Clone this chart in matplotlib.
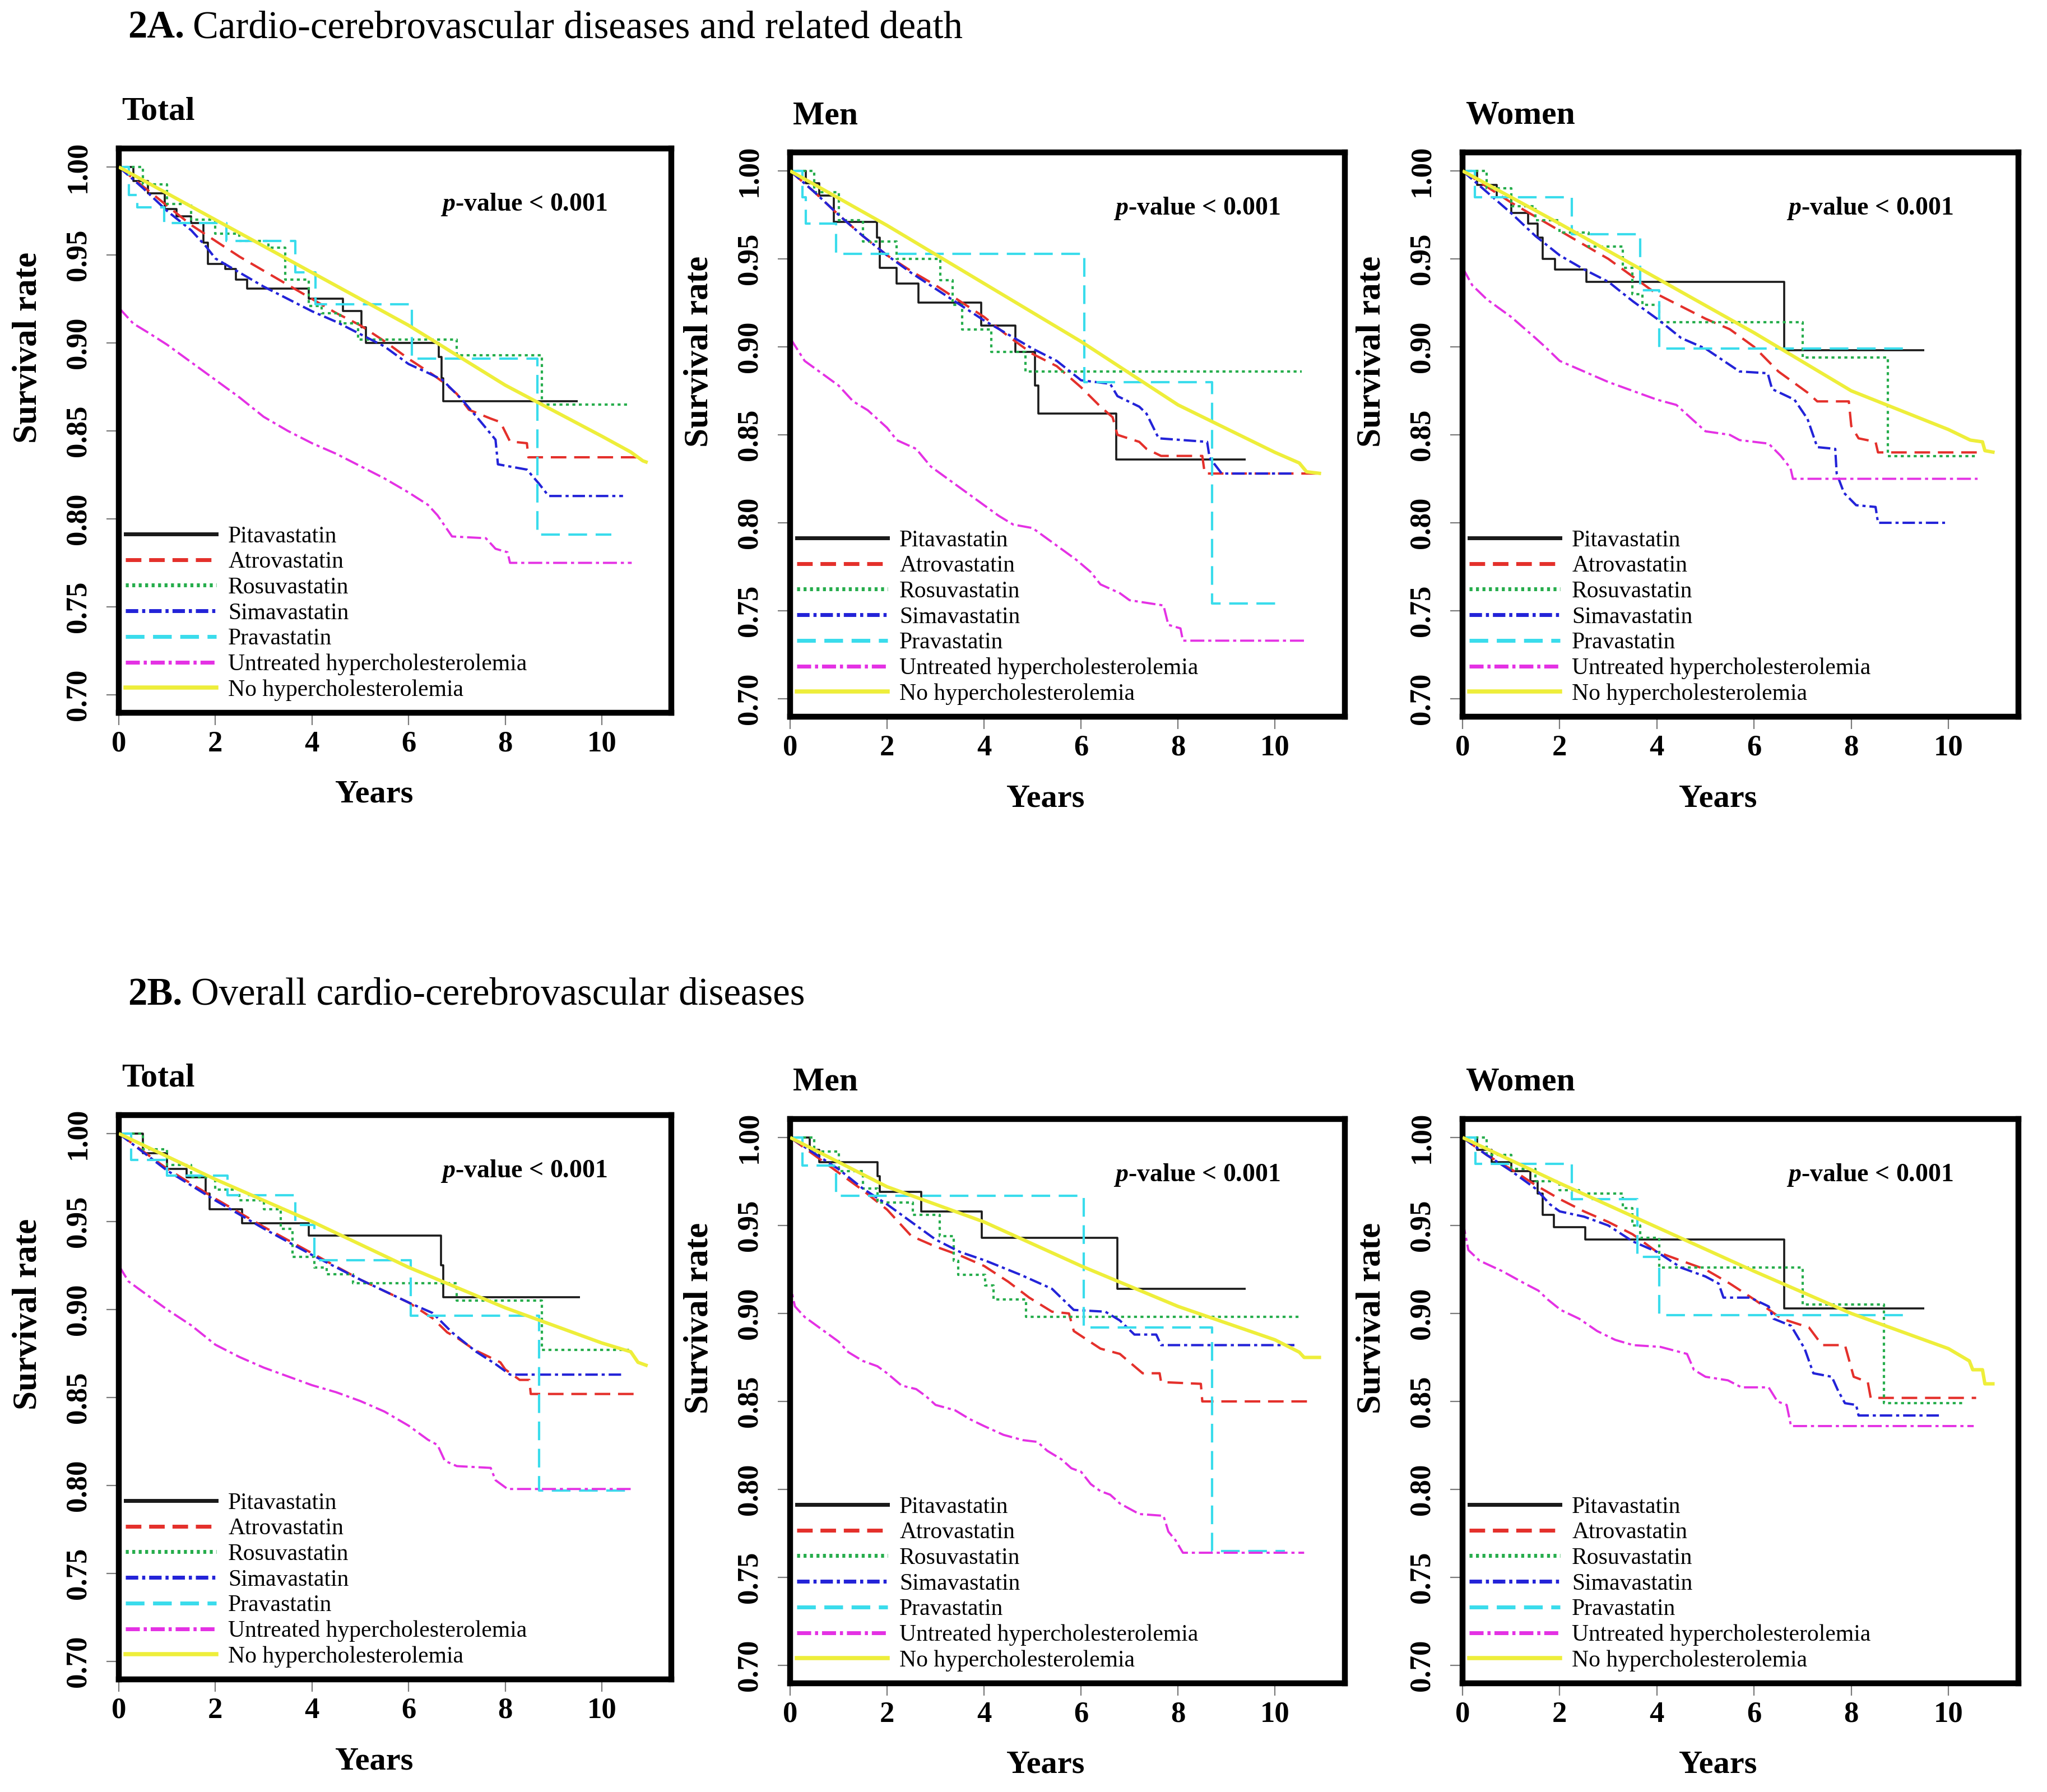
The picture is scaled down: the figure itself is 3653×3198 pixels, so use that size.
import matplotlib
matplotlib.use('Agg')
import matplotlib.pyplot as plt
from matplotlib.lines import Line2D
from matplotlib.text import Annotation

plt.rcParams['font.family'] = ['Liberation Serif', 'DejaVu Serif']
plt.rcParams['mathtext.fontset'] = 'custom'
plt.rcParams['mathtext.rm'] = 'Liberation Serif'
plt.rcParams['mathtext.bf'] = 'Liberation Serif:bold'
plt.rcParams['mathtext.it'] = 'Liberation Serif:italic:bold'
plt.rcParams['lines.scale_dashes'] = False

# ---------------- data ----------------
SERIES = ['Pitavastatin', 'Atrovastatin', 'Rosuvastatin', 'Simavastatin',
          'Pravastatin', 'Untreated hypercholesterolemia', 'No hypercholesterolemia']
SECTION_LABELS = ['2A.', '2B.']
SECTION_TITLES = ['Cardio-cerebrovascular diseases and related death',
                  'Overall cardio-cerebrovascular diseases']
PANEL_TITLES = ['Total', 'Men', 'Women']
X_TICKS = [0, 2, 4, 6, 8, 10]
Y_TICKS = [0.70, 0.75, 0.80, 0.85, 0.90, 0.95, 1.00]
P_TEXT = '$p$-value < 0.001'

# ---- 2A Total ----
A_TOT_PITA_T = [0, 0.3, 0.6, 0.95, 1.2, 1.5, 1.75, 1.85, 2.2, 2.43, 2.66, 3.93, 4.64, 5.02, 5.12, 6.62, 6.68, 6.72, 9.5]
A_TOT_PITA_S = [1.0, 0.992, 0.985, 0.976, 0.972, 0.968, 0.957, 0.945, 0.942, 0.936, 0.931, 0.925, 0.918, 0.909, 0.900, 0.892, 0.880, 0.867, 0.867]
A_TOT_ATOR_T = [0, 0.5, 1.0, 1.5, 2.0, 2.5, 3.0, 3.5, 4.0, 4.5, 5.0, 5.5, 6.0, 6.5, 6.75, 7.0, 7.25, 7.7, 7.9, 8.1, 8.45, 8.48, 10.8]
A_TOT_ATOR_S = [1.0, 0.989, 0.978, 0.967, 0.958, 0.949, 0.941, 0.933, 0.925, 0.917, 0.910, 0.901, 0.891, 0.882, 0.877, 0.871, 0.862, 0.857, 0.855, 0.844, 0.843, 0.835, 0.835]
A_TOT_ROSU_T = [0, 0.5, 1.0, 1.5, 2.0, 2.5, 3.1, 3.45, 3.93, 4.2, 4.58, 4.95, 7.0, 8.76, 10.58]
A_TOT_ROSU_S = [1.0, 0.990, 0.979, 0.970, 0.962, 0.958, 0.954, 0.936, 0.921, 0.917, 0.911, 0.902, 0.893, 0.865, 0.865]
A_TOT_SIMV_T = [0, 0.5, 1.0, 1.5, 1.8, 2.0, 2.5, 3.0, 3.5, 4.0, 4.5, 5.0, 5.5, 6.0, 6.4, 6.7, 7.1, 7.5, 7.8, 7.85, 8.45, 8.7, 8.9, 10.44]
A_TOT_SIMV_S = [1.0, 0.988, 0.975, 0.964, 0.955, 0.948, 0.940, 0.932, 0.925, 0.918, 0.912, 0.905, 0.898, 0.888, 0.883, 0.879, 0.868, 0.855, 0.845, 0.831, 0.828, 0.820, 0.813, 0.813]
A_TOT_PRAV_T = [0, 0.21, 0.38, 0.94, 2.23, 3.65, 4.07, 6.07, 8.67, 10.2]
A_TOT_PRAV_S = [1.0, 0.984, 0.977, 0.968, 0.958, 0.940, 0.922, 0.891, 0.791, 0.791]
A_TOT_UNTR_T = [0, 0.3, 0.6, 1.0, 1.5, 2.0, 2.5, 3.0, 3.5, 4.0, 4.5, 5.0, 5.5, 6.0, 6.4, 6.6, 6.9, 7.6, 7.8, 8.05, 8.1, 10.62]
A_TOT_UNTR_S = [0.920, 0.911, 0.906, 0.899, 0.889, 0.879, 0.869, 0.858, 0.850, 0.843, 0.837, 0.830, 0.823, 0.815, 0.808, 0.802, 0.790, 0.789, 0.783, 0.781, 0.775, 0.775]
A_TOT_NOHC_T = [0, 2, 4, 6, 8, 10, 10.6, 10.85, 10.95]
A_TOT_NOHC_S = [1.0, 0.970, 0.940, 0.910, 0.876, 0.847, 0.838, 0.833, 0.832]

# ---- 2A Men ----
A_MEN_PITA_T = [0, 0.32, 0.6, 0.9, 1.79, 1.85, 2.2, 2.65, 3.94, 4.65, 5.05, 5.12, 6.72, 9.4]
A_MEN_PITA_S = [1.0, 0.993, 0.986, 0.971, 0.962, 0.945, 0.936, 0.925, 0.912, 0.897, 0.878, 0.862, 0.836, 0.836]
A_MEN_ATOR_T = [0, 0.5, 1.0, 1.5, 2.0, 2.5, 3.0, 3.5, 4.0, 4.5, 5.0, 5.5, 6.0, 6.4, 6.65, 6.75, 7.2, 7.35, 7.65, 8.5, 8.55, 10.9]
A_MEN_ATOR_S = [1.0, 0.988, 0.975, 0.963, 0.952, 0.943, 0.935, 0.926, 0.917, 0.906, 0.896, 0.889, 0.877, 0.866, 0.860, 0.850, 0.846, 0.842, 0.838, 0.838, 0.828, 0.828]
A_MEN_ROSU_T = [0, 0.5, 1.0, 1.5, 2.2, 3.1, 3.35, 3.55, 4.15, 4.85, 10.55]
A_MEN_ROSU_S = [1.0, 0.988, 0.972, 0.960, 0.950, 0.938, 0.924, 0.910, 0.897, 0.886, 0.886]
A_MEN_SIMV_T = [0, 0.5, 1.0, 1.5, 2.0, 2.5, 3.0, 3.5, 4.0, 4.5, 5.0, 5.5, 6.0, 6.6, 6.75, 7.2, 7.35, 7.6, 8.6, 8.65, 8.9, 10.35]
A_MEN_SIMV_S = [1.0, 0.988, 0.975, 0.963, 0.952, 0.942, 0.933, 0.924, 0.915, 0.907, 0.899, 0.892, 0.881, 0.879, 0.872, 0.866, 0.862, 0.848, 0.846, 0.837, 0.828, 0.828]
A_MEN_PRAV_T = [0, 0.25, 0.32, 0.95, 6.07, 8.7, 10.15]
A_MEN_PRAV_S = [1.0, 0.985, 0.970, 0.953, 0.880, 0.754, 0.754]
A_MEN_UNTR_T = [0, 0.3, 0.6, 1.0, 1.3, 1.6, 2.0, 2.2, 2.6, 2.9, 3.2, 3.6, 4.0, 4.3, 4.6, 5.0, 5.3, 5.6, 5.9, 6.2, 6.4, 6.8, 7.0, 7.7, 7.8, 8.05, 8.1, 10.62]
A_MEN_UNTR_S = [0.905, 0.892, 0.886, 0.878, 0.869, 0.864, 0.854, 0.847, 0.842, 0.832, 0.826, 0.818, 0.810, 0.804, 0.799, 0.797, 0.791, 0.785, 0.779, 0.772, 0.765, 0.760, 0.756, 0.753, 0.742, 0.740, 0.733, 0.733]
A_MEN_NOHC_T = [0, 2, 4, 6, 8, 10, 10.5, 10.65, 10.95]
A_MEN_NOHC_S = [1.0, 0.969, 0.936, 0.903, 0.867, 0.840, 0.834, 0.829, 0.828]

# ---- 2A Women ----
A_WOM_PITA_T = [0, 0.3, 0.7, 1.0, 1.35, 1.55, 1.65, 1.9, 2.55, 6.62, 9.5]
A_WOM_PITA_S = [1.0, 0.992, 0.985, 0.976, 0.970, 0.962, 0.950, 0.944, 0.937, 0.898, 0.898]
A_WOM_ATOR_T = [0, 1, 2, 3, 4, 5, 5.5, 6, 6.5, 6.8, 7.1, 7.3, 7.95, 8.0, 8.15, 8.5, 8.55, 10.6]
A_WOM_ATOR_S = [1.0, 0.982, 0.966, 0.950, 0.930, 0.916, 0.910, 0.900, 0.886, 0.880, 0.874, 0.869, 0.869, 0.855, 0.848, 0.846, 0.840, 0.840]
A_WOM_ROSU_T = [0, 0.5, 1.0, 1.5, 2.0, 2.6, 3.3, 3.5, 3.7, 4.05, 7.0, 8.75, 10.55]
A_WOM_ROSU_S = [1.0, 0.990, 0.980, 0.972, 0.965, 0.957, 0.945, 0.930, 0.924, 0.914, 0.894, 0.838, 0.838]
A_WOM_SIMV_T = [0, 0.5, 1.0, 1.5, 2.0, 2.5, 3.0, 3.5, 4.05, 4.5, 5.0, 5.7, 6.28, 6.37, 6.83, 7.1, 7.3, 7.67, 7.7, 7.85, 8.1, 8.5, 8.55, 9.93]
A_WOM_SIMV_S = [1.0, 0.988, 0.976, 0.963, 0.952, 0.944, 0.937, 0.926, 0.915, 0.905, 0.899, 0.886, 0.885, 0.876, 0.870, 0.859, 0.843, 0.842, 0.828, 0.817, 0.810, 0.809, 0.800, 0.800]
A_WOM_PRAV_T = [0, 0.25, 2.25, 3.65, 4.05, 9.1]
A_WOM_PRAV_S = [1.0, 0.985, 0.964, 0.932, 0.899, 0.899]
A_WOM_UNTR_T = [0, 0.2, 0.5, 1.0, 1.5, 1.7, 2.0, 2.5, 3.0, 3.5, 4.0, 4.4, 4.8, 5.0, 5.5, 5.7, 6.3, 6.55, 6.75, 6.8, 10.6]
A_WOM_UNTR_S = [0.945, 0.935, 0.927, 0.917, 0.905, 0.900, 0.892, 0.886, 0.880, 0.875, 0.870, 0.867, 0.857, 0.852, 0.850, 0.847, 0.845, 0.838, 0.831, 0.825, 0.825]
A_WOM_NOHC_T = [0, 2, 4, 6, 8, 10, 10.45, 10.7, 10.75, 10.95]
A_WOM_NOHC_S = [1.0, 0.970, 0.939, 0.908, 0.875, 0.853, 0.847, 0.846, 0.841, 0.840]

# ---- 2B Total ----
B_TOT_PITA_T = [0, 0.5, 1.0, 1.4, 1.8, 1.88, 2.55, 3.93, 6.67, 6.72, 9.55]
B_TOT_PITA_S = [1.0, 0.989, 0.980, 0.975, 0.966, 0.957, 0.949, 0.942, 0.925, 0.907, 0.907]
B_TOT_ATOR_T = [0, 1, 2, 3, 4, 5, 6, 6.5, 6.8, 7.0, 7.37, 7.9, 8.0, 8.3, 8.5, 8.53, 10.67]
B_TOT_ATOR_S = [1.0, 0.980, 0.963, 0.947, 0.932, 0.917, 0.904, 0.895, 0.887, 0.884, 0.877, 0.870, 0.866, 0.860, 0.860, 0.852, 0.852]
B_TOT_ROSU_T = [0, 0.5, 1.0, 1.5, 2.0, 2.5, 3.0, 3.35, 3.6, 4.05, 4.3, 4.85, 7.0, 8.76, 10.6]
B_TOT_ROSU_S = [1.0, 0.991, 0.982, 0.975, 0.968, 0.962, 0.957, 0.946, 0.930, 0.924, 0.920, 0.915, 0.905, 0.877, 0.877]
B_TOT_SIMV_T = [0, 1, 2, 3, 4, 5, 6, 6.5, 6.9, 7.4, 7.8, 8.1, 10.48]
B_TOT_SIMV_S = [1.0, 0.979, 0.962, 0.946, 0.931, 0.917, 0.904, 0.898, 0.887, 0.876, 0.869, 0.863, 0.863]
B_TOT_PRAV_T = [0, 0.25, 1.0, 2.25, 3.65, 4.05, 6.05, 8.7, 10.5]
B_TOT_PRAV_S = [1.0, 0.985, 0.976, 0.965, 0.948, 0.928, 0.8965, 0.797, 0.797]
B_TOT_UNTR_T = [0, 0.2, 0.5, 1.0, 1.5, 2.0, 2.5, 3.0, 3.5, 4.0, 4.5, 5.0, 5.5, 6.0, 6.4, 6.6, 6.75, 7.0, 7.7, 7.8, 8.05, 10.62]
B_TOT_UNTR_S = [0.925, 0.916, 0.910, 0.900, 0.891, 0.880, 0.873, 0.867, 0.862, 0.857, 0.853, 0.848, 0.842, 0.834, 0.826, 0.823, 0.814, 0.811, 0.810, 0.803, 0.798, 0.798]
B_TOT_NOHC_T = [0, 2, 4, 6, 8, 10, 10.6, 10.75, 10.95]
B_TOT_NOHC_S = [1.0, 0.974, 0.950, 0.924, 0.901, 0.881, 0.876, 0.870, 0.868]

# ---- 2B Men ----
B_MEN_PITA_T = [0, 0.4, 0.6, 1.8, 1.85, 2.7, 3.95, 6.75, 9.4]
B_MEN_PITA_S = [1.0, 0.993, 0.986, 0.978, 0.969, 0.958, 0.943, 0.914, 0.914]
B_MEN_ATOR_T = [0, 0.5, 1.0, 1.5, 2.0, 2.5, 3.0, 3.5, 4.0, 4.5, 4.93, 5.4, 5.75, 5.85, 6.4, 6.8, 7.27, 7.62, 7.65, 8.47, 8.5, 10.8]
B_MEN_ATOR_S = [1.0, 0.990, 0.980, 0.970, 0.959, 0.944, 0.938, 0.933, 0.927, 0.918, 0.909, 0.901, 0.900, 0.890, 0.880, 0.877, 0.866, 0.866, 0.861, 0.860, 0.850, 0.850]
B_MEN_ROSU_T = [0, 0.5, 1.0, 1.5, 1.8, 2.53, 3.09, 3.37, 3.47, 4.02, 4.2, 4.86, 10.55]
B_MEN_ROSU_S = [1.0, 0.992, 0.981, 0.971, 0.963, 0.956, 0.944, 0.930, 0.922, 0.916, 0.908, 0.898, 0.898]
B_MEN_SIMV_T = [0, 0.5, 1.0, 1.5, 2.0, 2.5, 3.0, 3.5, 4.03, 4.75, 5.4, 5.85, 6.5, 6.8, 7.1, 7.55, 7.65, 10.4]
B_MEN_SIMV_S = [1.0, 0.991, 0.982, 0.971, 0.962, 0.952, 0.942, 0.935, 0.930, 0.922, 0.914, 0.902, 0.901, 0.896, 0.888, 0.888, 0.882, 0.882]
B_MEN_PRAV_T = [0, 0.25, 0.95, 6.05, 8.7, 10.2]
B_MEN_PRAV_S = [1.0, 0.984, 0.967, 0.892, 0.765, 0.765]
B_MEN_UNTR_T = [0, 0.05, 0.1, 0.3, 0.6, 1.0, 1.2, 1.5, 1.8, 2.0, 2.3, 2.6, 2.8, 3.0, 3.4, 3.7, 4.0, 4.4, 4.8, 5.1, 5.3, 5.6, 5.8, 6.0, 6.2, 6.4, 6.6, 6.8, 7.0, 7.2, 7.7, 7.8, 7.95, 8.1, 10.6]
B_MEN_UNTR_S = [0.921, 0.910, 0.904, 0.898, 0.892, 0.884, 0.878, 0.873, 0.870, 0.866, 0.859, 0.857, 0.853, 0.848, 0.845, 0.840, 0.836, 0.831, 0.828, 0.827, 0.822, 0.817, 0.812, 0.810, 0.803, 0.799, 0.797, 0.792, 0.789, 0.786, 0.785, 0.776, 0.771, 0.764, 0.764]
B_MEN_NOHC_T = [0, 2, 4, 6, 8, 10, 10.5, 10.6, 10.95]
B_MEN_NOHC_S = [1.0, 0.972, 0.952, 0.927, 0.904, 0.885, 0.878, 0.875, 0.875]

# ---- 2B Women ----
B_WOM_PITA_T = [0, 0.3, 0.6, 1.0, 1.4, 1.55, 1.65, 1.88, 2.53, 6.62, 9.5]
B_WOM_PITA_S = [1.0, 0.993, 0.986, 0.981, 0.975, 0.968, 0.956, 0.949, 0.942, 0.903, 0.903]
B_WOM_ATOR_T = [0, 0.5, 1, 1.5, 2, 2.5, 3, 3.5, 4, 4.5, 5, 5.5, 6, 6.57, 7.13, 7.4, 7.87, 7.97, 8.05, 8.34, 8.4, 10.57]
B_WOM_ATOR_S = [1.0, 0.990, 0.982, 0.973, 0.965, 0.958, 0.952, 0.945, 0.935, 0.930, 0.925, 0.917, 0.908, 0.897, 0.892, 0.882, 0.882, 0.872, 0.864, 0.861, 0.852, 0.852]
B_WOM_ROSU_T = [0, 0.5, 1.0, 1.5, 2.0, 2.4, 3.3, 3.5, 3.65, 4.05, 7.0, 8.67, 10.35]
B_WOM_ROSU_S = [1.0, 0.990, 0.982, 0.975, 0.970, 0.968, 0.960, 0.950, 0.943, 0.926, 0.905, 0.849, 0.849]
B_WOM_SIMV_T = [0, 0.5, 1, 1.5, 1.8, 2, 2.5, 3, 3.5, 4, 4.5, 5, 5.27, 5.37, 5.92, 6.3, 6.4, 6.76, 7.04, 7.22, 7.6, 7.73, 7.87, 8.1, 8.15, 9.82]
B_WOM_SIMV_S = [1.0, 0.990, 0.981, 0.971, 0.962, 0.958, 0.955, 0.950, 0.941, 0.935, 0.926, 0.921, 0.917, 0.909, 0.909, 0.904, 0.897, 0.893, 0.880, 0.866, 0.864, 0.856, 0.849, 0.848, 0.842, 0.842]
B_WOM_PRAV_T = [0, 0.27, 2.25, 3.6, 4.05, 9.1]
B_WOM_PRAV_S = [1.0, 0.985, 0.965, 0.932, 0.899, 0.899]
B_WOM_UNTR_T = [0, 0.12, 0.35, 0.82, 1.28, 1.56, 1.75, 2.02, 2.4, 2.77, 3.14, 3.51, 4.07, 4.62, 4.76, 5.0, 5.46, 5.74, 6.3, 6.48, 6.67, 6.76, 10.52]
B_WOM_UNTR_S = [0.953, 0.936, 0.930, 0.924, 0.917, 0.913, 0.908, 0.902, 0.897, 0.890, 0.885, 0.882, 0.881, 0.877, 0.868, 0.864, 0.862, 0.858, 0.858, 0.850, 0.848, 0.836, 0.836]
B_WOM_NOHC_T = [0, 2, 4, 6, 8, 10, 10.43, 10.5, 10.7, 10.75, 10.95]
B_WOM_NOHC_S = [1.0, 0.974, 0.949, 0.924, 0.900, 0.880, 0.873, 0.868, 0.868, 0.860, 0.860]

PANEL_DATA = [
    [(A_TOT_PITA_T, A_TOT_PITA_S), (A_TOT_ATOR_T, A_TOT_ATOR_S), (A_TOT_ROSU_T, A_TOT_ROSU_S),
     (A_TOT_SIMV_T, A_TOT_SIMV_S), (A_TOT_PRAV_T, A_TOT_PRAV_S), (A_TOT_UNTR_T, A_TOT_UNTR_S),
     (A_TOT_NOHC_T, A_TOT_NOHC_S)],
    [(A_MEN_PITA_T, A_MEN_PITA_S), (A_MEN_ATOR_T, A_MEN_ATOR_S), (A_MEN_ROSU_T, A_MEN_ROSU_S),
     (A_MEN_SIMV_T, A_MEN_SIMV_S), (A_MEN_PRAV_T, A_MEN_PRAV_S), (A_MEN_UNTR_T, A_MEN_UNTR_S),
     (A_MEN_NOHC_T, A_MEN_NOHC_S)],
    [(A_WOM_PITA_T, A_WOM_PITA_S), (A_WOM_ATOR_T, A_WOM_ATOR_S), (A_WOM_ROSU_T, A_WOM_ROSU_S),
     (A_WOM_SIMV_T, A_WOM_SIMV_S), (A_WOM_PRAV_T, A_WOM_PRAV_S), (A_WOM_UNTR_T, A_WOM_UNTR_S),
     (A_WOM_NOHC_T, A_WOM_NOHC_S)],
    [(B_TOT_PITA_T, B_TOT_PITA_S), (B_TOT_ATOR_T, B_TOT_ATOR_S), (B_TOT_ROSU_T, B_TOT_ROSU_S),
     (B_TOT_SIMV_T, B_TOT_SIMV_S), (B_TOT_PRAV_T, B_TOT_PRAV_S), (B_TOT_UNTR_T, B_TOT_UNTR_S),
     (B_TOT_NOHC_T, B_TOT_NOHC_S)],
    [(B_MEN_PITA_T, B_MEN_PITA_S), (B_MEN_ATOR_T, B_MEN_ATOR_S), (B_MEN_ROSU_T, B_MEN_ROSU_S),
     (B_MEN_SIMV_T, B_MEN_SIMV_S), (B_MEN_PRAV_T, B_MEN_PRAV_S), (B_MEN_UNTR_T, B_MEN_UNTR_S),
     (B_MEN_NOHC_T, B_MEN_NOHC_S)],
    [(B_WOM_PITA_T, B_WOM_PITA_S), (B_WOM_ATOR_T, B_WOM_ATOR_S), (B_WOM_ROSU_T, B_WOM_ROSU_S),
     (B_WOM_SIMV_T, B_WOM_SIMV_S), (B_WOM_PRAV_T, B_WOM_PRAV_S), (B_WOM_UNTR_T, B_WOM_UNTR_S),
     (B_WOM_NOHC_T, B_WOM_NOHC_S)],
]

# ---------------- styles ----------------
COLORS = ['#1a1a1a', '#e4302b', '#26ad4c', '#2323d8', '#3adcec', '#e431e4', '#eeee3a']
LSTYLES = ['-', (0, (20, 10)), (0, (3.8, 4.5)), (0, (16, 5, 4, 5)), (0, (24, 11)),
           (0, (18, 5, 4, 5)), '-']
STEPPED = [True, False, True, False, True, False, False]
CURVE_LW = [2.6, 3.0, 3.0, 3.0, 3.0, 2.8, 4.4]
LEG_LW = [5.0, 5.0, 5.0, 5.0, 5.0, 5.0, 5.4]

W, H = 3653, 3198
DPI = 100
fig = plt.figure(figsize=(W / DPI, H / DPI), dpi=DPI)

ROW_DY = 1725
TOP_BOXES = [(212, 265, 986, 1007), (1410, 272, 990, 1007), (2610, 272, 992, 1007)]
BOXES = TOP_BOXES + [(l, t + ROW_DY, w, h) for (l, t, w, h) in TOP_BOXES]


def fx(px):
    return px / W


def fy(py):
    return 1 - py / H


for k, (l, t, w, h) in enumerate(BOXES):
    ax = fig.add_axes([fx(l), fy(t + h), w / W, h / H])
    ax.set_xlim(0, 11.44)
    ax.set_ylim(0.6898, 1.0105)
    for s in ax.spines.values():
        s.set_linewidth(7.5)
        s.set_color('black')
    for i, (tt, ss) in enumerate(PANEL_DATA[k]):
        ax.plot(tt, ss, color=COLORS[i], linestyle=LSTYLES[i], lw=CURVE_LW[i],
                drawstyle='steps-post' if STEPPED[i] else 'default',
                solid_capstyle='butt', zorder=2 + i * 0.1)
    ax.set_xticks(X_TICKS)
    ax.set_xticklabels([str(v) for v in X_TICKS], fontweight='bold')
    ax.set_yticks(Y_TICKS)
    ax.set_yticklabels(['%.2f' % v for v in Y_TICKS], fontweight='bold',
                       rotation=90, va='center', ha='right')
    ax.tick_params(direction='out', length=16, width=1.6, color='#7a7a7a',
                   labelsize=38)
    ax.tick_params(axis='y', pad=19)
    ax.tick_params(axis='x', pad=7)

    ax.text(0.733, 0.901, P_TEXT, transform=ax.transAxes, ha='center', va='center',
            fontsize=33, fontweight='bold')

    handles = [Line2D([], [], color=COLORS[i], linestyle=LSTYLES[i], lw=LEG_LW[i])
               for i in range(len(SERIES))]
    ax.legend(handles, SERIES, loc='lower left', bbox_to_anchor=(0.012, 0.021),
              frameon=False, fontsize=30, handlelength=3.9, handletextpad=0.5,
              labelspacing=0.17, borderpad=0, borderaxespad=0)

    fig.text(fx(l + 5), fy(t - 51), PANEL_TITLES[k % 3], fontsize=43,
             fontweight='bold', va='baseline', ha='left')
    fig.text(fx(l - 162), fy(t + 355), 'Survival rate', fontsize=44, fontweight='bold',
             rotation=90, ha='center', va='center')
    fig.text(fx(l + 456), fy(t + h + 146), 'Years', fontsize=42, fontweight='bold',
             ha='center', va='center')

for r in range(len(SECTION_TITLES)):
    t1 = fig.text(fx(228), fy(68 + r * ROW_DY), SECTION_LABELS[r], fontsize=49.5,
                  fontweight='bold', va='baseline', ha='left')
    ann = Annotation(SECTION_TITLES[r], xy=(1, 0), xycoords=t1, xytext=(11, 0),
                     textcoords='offset points', fontsize=49.5, va='bottom', ha='left')
    fig.add_artist(ann)

fig.savefig('out.png', dpi=DPI, facecolor='white')
